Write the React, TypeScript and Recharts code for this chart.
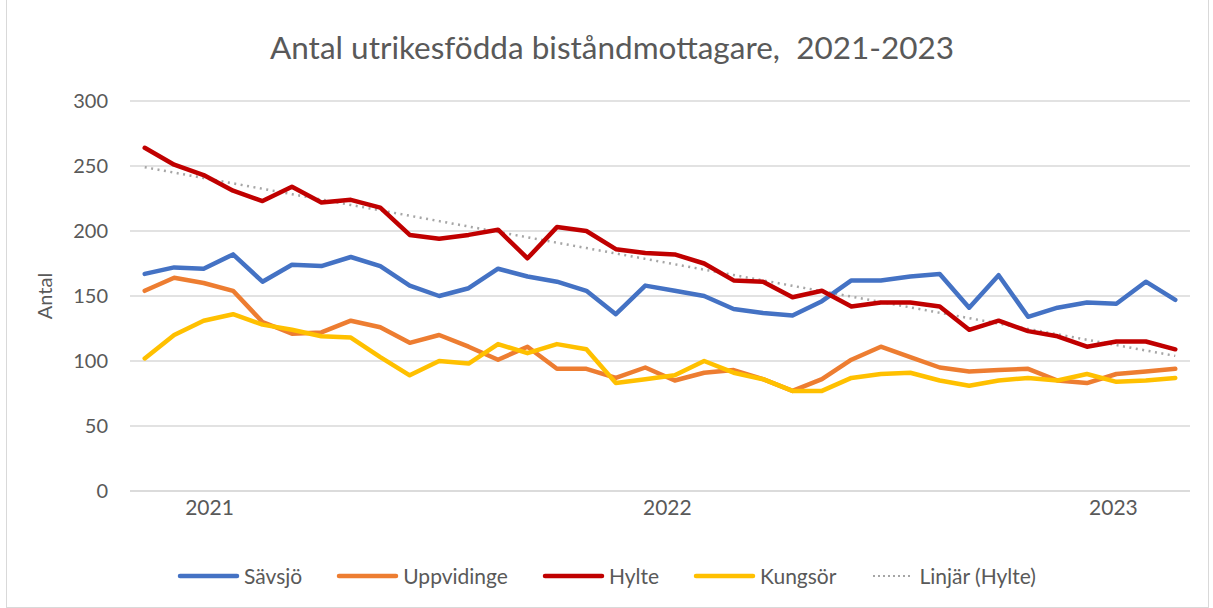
import React from "react";
import { LineChart, Line, XAxis, YAxis, CartesianGrid } from "recharts";

const months: string[] = [
  "2021-01","2021-02","2021-03","2021-04","2021-05","2021-06","2021-07","2021-08","2021-09","2021-10","2021-11","2021-12",
  "2022-01","2022-02","2022-03","2022-04","2022-05","2022-06","2022-07","2022-08","2022-09","2022-10","2022-11","2022-12",
  "2023-01","2023-02","2023-03","2023-04","2023-05","2023-06","2023-07","2023-08","2023-09","2023-10","2023-11","2023-12",
];

const savsjo = [167,172,171,182,161,174,173,180,173,158,150,156,171,165,161,154,136,158,154,150,140,137,135,146,162,162,165,167,141,166,134,141,145,144,161,147];
const uppvidinge = [154,164,160,154,130,121,122,131,126,114,120,111,101,111,94,94,87,95,85,91,93,86,77,86,101,111,103,95,92,93,94,85,83,90,92,94];
const hylte = [264,251,243,231,223,234,222,224,218,197,194,197,201,179,203,200,186,183,182,175,162,161,149,154,142,145,145,142,124,131,123,119,111,115,115,109];
const kungsor = [102,120,131,136,128,124,119,118,103,89,100,98,113,106,113,109,83,86,89,100,91,86,77,77,87,90,91,85,81,85,87,85,90,84,85,87];

const yearLabels = ["2021", "2022", "2023"];
const yearTickPos = [2.2, 17.75, 32.9];
const yTicks = [0, 50, 100, 150, 200, 250, 300];

// Linear trendline (least squares) for Hylte, as Excel's "Linjär" trendline
const n = hylte.length;
const meanX = (n - 1) / 2;
const meanY = hylte.reduce((a, b) => a + b, 0) / n;
let sxy = 0, sxx = 0;
hylte.forEach((v, i) => { sxy += (i - meanX) * (v - meanY); sxx += (i - meanX) * (i - meanX); });
const slope = sxy / sxx;
const intercept = meanY - slope * meanX;

const data = months.map((m, i) => ({
  idx: i,
  month: m,
  savsjo: savsjo[i],
  uppvidinge: uppvidinge[i],
  hylte: hylte[i],
  kungsor: kungsor[i],
  trend: intercept + slope * i,
}));

const FONT = "Lato, 'Liberation Sans', sans-serif";
const TEXT = "#595959";

const legendItems = [
  { name: "Sävsjö", color: "#4472C4", dotted: false },
  { name: "Uppvidinge", color: "#ED7D31", dotted: false },
  { name: "Hylte", color: "#C00000", dotted: false },
  { name: "Kungsör", color: "#FFC000", dotted: false },
  { name: "Linjär (Hylte)", color: "#A6A6A6", dotted: true },
];

const CustomLegend = () => (
  <div style={{ display: "flex", justifyContent: "center", alignItems: "center", gap: 34, fontFamily: FONT, fontSize: 21, color: TEXT, lineHeight: "24px" }}>
    {legendItems.map((it) => (
      <div key={it.name} style={{ display: "flex", alignItems: "center", gap: 4 }}>
        <svg width={it.dotted ? 45 : 63} height={10}>
          <line x1={3} y1={5} x2={it.dotted ? 42 : 60} y2={5} stroke={it.color}
            strokeWidth={it.dotted ? 2 : 4.5} strokeLinecap={it.dotted ? "butt" : "round"}
            strokeDasharray={it.dotted ? "2 3" : undefined} />
        </svg>
        <span>{it.name}</span>
      </div>
    ))}
  </div>
);

export default function App() {
  return (
    <div style={{ position: "absolute", left: 0, top: 0, width: 1213, height: 608, background: "#fff" }}>
      <div style={{ position: "absolute", left: 6, top: -1, width: 1203, height: 609, border: "1px solid #d9d9d9", boxSizing: "border-box" }} />
      <div style={{ position: "absolute", left: 0, top: 27, width: 1224, textAlign: "center", fontFamily: FONT, fontSize: 31.5, color: TEXT, whiteSpace: "pre", lineHeight: "40px" }}>
        {"Antal utrikesfödda biståndmottagare,  2021-2023"}
      </div>
      <div style={{ position: "absolute", left: 0, top: 0 }}>
        <LineChart width={1213} height={608} data={data} margin={{ top: 101, right: 23, bottom: 77, left: 20 }}>
          <CartesianGrid vertical={false} stroke="#d9d9d9" strokeWidth={1.5} />
          <XAxis
            type="number"
            dataKey="idx"
            domain={[-0.5, 35.5]}
            ticks={yearTickPos}
            tickFormatter={(v: number) => yearLabels[yearTickPos.indexOf(v)] ?? ""}
            axisLine={{ stroke: "#d9d9d9", strokeWidth: 1.5 }}
            tickLine={false}
            tickSize={0}
            tickMargin={9}
            height={40}
            interval={0}
            allowDataOverflow
            tick={{ fill: TEXT, fontSize: 21, fontFamily: FONT }}
          />
          <YAxis
            domain={[0, 300]}
            ticks={yTicks}
            width={110}
            axisLine={false}
            tickLine={false}
            tickSize={0}
            tickMargin={22}
            tick={{ fill: TEXT, fontSize: 20, fontFamily: FONT }}
            label={{ value: "Antal", angle: -90, position: "insideLeft", offset: 25, style: { textAnchor: "middle", fill: TEXT, fontSize: 20, fontFamily: FONT } }}
          />
          <Line name="Linjär (Hylte)" dataKey="trend" stroke="#A6A6A6" strokeWidth={2.5} strokeDasharray="2 4.5" dot={false} isAnimationActive={false} />
          <Line name="Sävsjö" dataKey="savsjo" stroke="#4472C4" strokeWidth={4.5} strokeLinejoin="round" strokeLinecap="round" dot={false} isAnimationActive={false} />
          <Line name="Uppvidinge" dataKey="uppvidinge" stroke="#ED7D31" strokeWidth={4.5} strokeLinejoin="round" strokeLinecap="round" dot={false} isAnimationActive={false} />
          <Line name="Hylte" dataKey="hylte" stroke="#C00000" strokeWidth={4.5} strokeLinejoin="round" strokeLinecap="round" dot={false} isAnimationActive={false} />
          <Line name="Kungsör" dataKey="kungsor" stroke="#FFC000" strokeWidth={4.5} strokeLinejoin="round" strokeLinecap="round" dot={false} isAnimationActive={false} />
        </LineChart>
      </div>
      <div style={{ position: "absolute", left: 0, top: 564, width: 1213 }}>
        <CustomLegend />
      </div>
    </div>
  );
}
